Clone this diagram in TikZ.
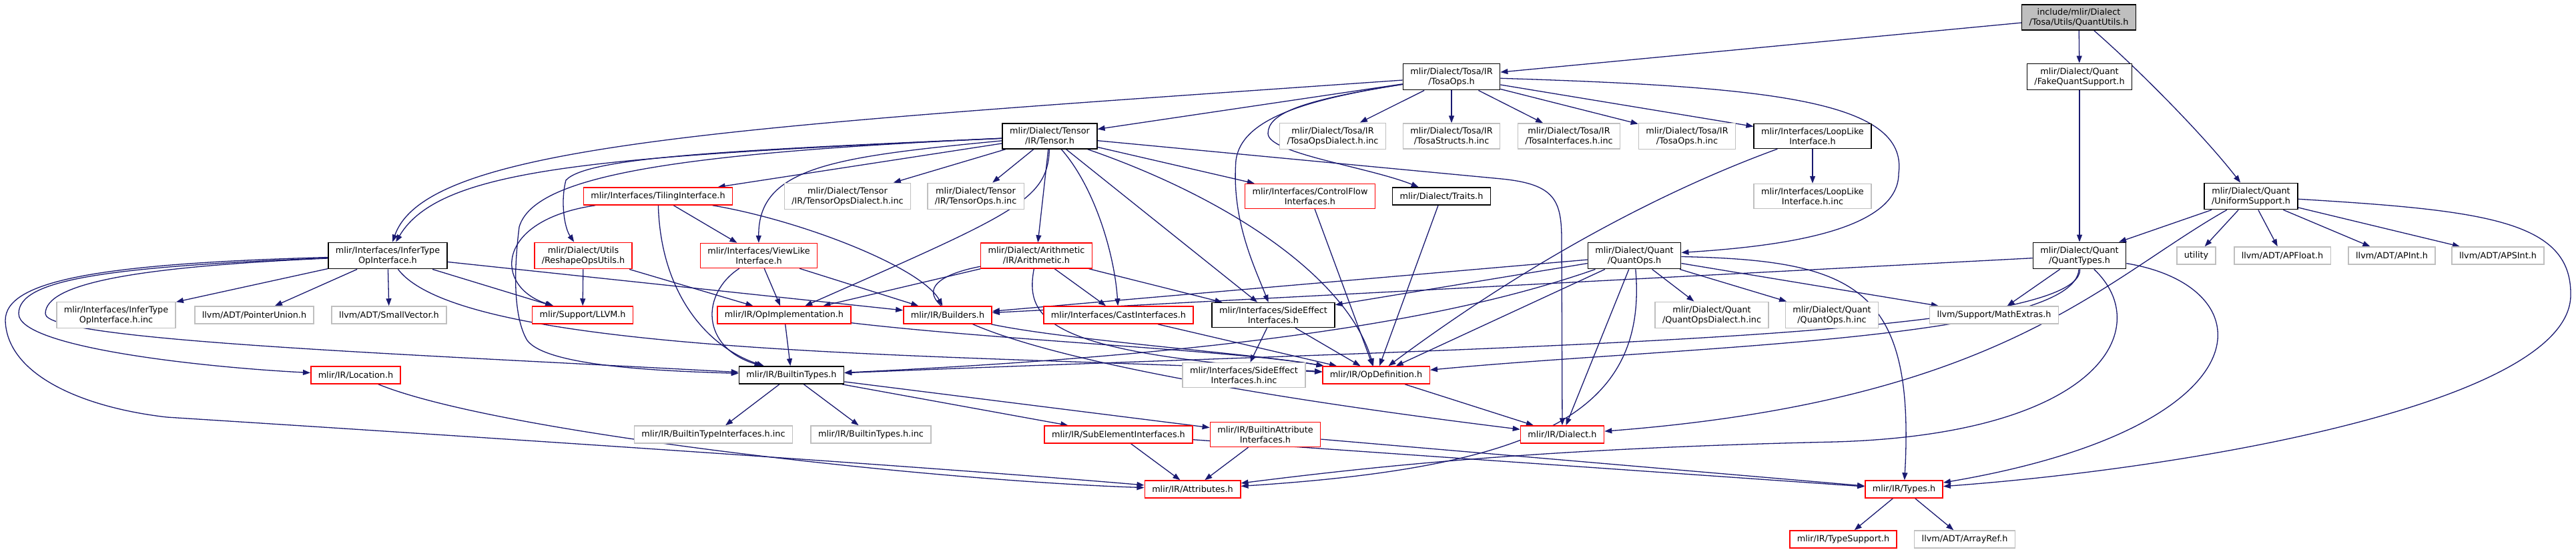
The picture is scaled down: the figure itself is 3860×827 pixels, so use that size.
\documentclass[tikz,border=0pt]{standalone}
\usepackage{fontspec}
\setmainfont{DejaVu Sans}
\usepackage{tikz}
\usetikzlibrary{arrows.meta,positioning,calc,backgrounds}
\definecolor{incblue}{HTML}{191970}
\definecolor{extgray}{HTML}{BFBFBF}
\tikzset{
  hfile/.style={rectangle,draw=black,fill=white,line width=1.5pt,
    inner xsep=11pt,inner ysep=6pt,minimum height=26pt,align=center,
    font=\fontsize{12.8}{15}\selectfont},
  hfilered/.style={hfile,draw=red},
  hfileext/.style={hfile,draw=extgray},
  hfileroot/.style={hfile,fill=extgray},
  incarrow/.style={-{Triangle[length=11pt,width=8pt]},draw=incblue,line width=1.3pt}
}

\begin{document}
\begin{tikzpicture}[x=1pt,y=-1pt]
\useasboundingbox (0,0) rectangle (3860,827);

  % --------------------------------------------------------------
  % Header files, one row per rank of the include graph.
  % --------------------------------------------------------------
  \node[hfileroot] (quantutils) at (3115,26) {include/mlir/Dialect\\/Tosa/Utils/QuantUtils.h};

  \node[hfile] (tosaops)   at (2175,115) {mlir/Dialect/Tosa/IR\\/TosaOps.h};
  \node[hfile] (fakequant) at (3116,115) {mlir/Dialect/Quant\\/FakeQuantSupport.h};

  \node[hfile]    (tensor)         at (1573,204) {mlir/Dialect/Tensor\\/IR/Tensor.h};
  \node[hfileext] (tosadialectinc) at (1997,204) {mlir/Dialect/Tosa/IR\\/TosaOpsDialect.h.inc};
  \node[hfileext] (tosastructsinc) at (2175,204) {mlir/Dialect/Tosa/IR\\/TosaStructs.h.inc};
  \node[hfileext] (tosaifaceinc)   at (2351,204) {mlir/Dialect/Tosa/IR\\/TosaInterfaces.h.inc};
  \node[hfileext] (tosaopsinc)     at (2528,204) {mlir/Dialect/Tosa/IR\\/TosaOps.h.inc};
  \node[hfile]    (looplike)       at (2716,204) {mlir/Interfaces/LoopLike\\Interface.h};

  \node[hfilered] (tiling)           at (986,294)  {mlir/Interfaces/TilingInterface.h};
  \node[hfileext] (tensordialectinc) at (1270,294) {mlir/Dialect/Tensor\\/IR/TensorOpsDialect.h.inc};
  \node[hfileext] (tensoropsinc)     at (1462,294) {mlir/Dialect/Tensor\\/IR/TensorOps.h.inc};
  \node[hfilered] (controlflow)      at (1963,294) {mlir/Interfaces/ControlFlow\\Interfaces.h};
  \node[hfile]    (traits)           at (2160,294) {mlir/Dialect/Traits.h};
  \node[hfileext] (looplikeinc)      at (2716,294) {mlir/Interfaces/LoopLike\\Interface.h.inc};
  \node[hfile]    (uniform)          at (3373,294) {mlir/Dialect/Quant\\/UniformSupport.h};

  \node[hfile]    (infertype)  at (581,383)  {mlir/Interfaces/InferType\\OpInterface.h};
  \node[hfilered] (reshape)    at (874,383)  {mlir/Dialect/Utils\\/ReshapeOpsUtils.h};
  \node[hfilered] (viewlike)   at (1137,383) {mlir/Interfaces/ViewLike\\Interface.h};
  \node[hfilered] (arith)      at (1553,383) {mlir/Dialect/Arithmetic\\/IR/Arithmetic.h};
  \node[hfile]    (quantops)   at (2449,383) {mlir/Dialect/Quant\\/QuantOps.h};
  \node[hfile]    (quanttypes) at (3116,383) {mlir/Dialect/Quant\\/QuantTypes.h};
  \node[hfileext] (utility)    at (3291,383) {utility};
  \node[hfileext] (apfloat)    at (3420,383) {llvm/ADT/APFloat.h};
  \node[hfileext] (apint)      at (3584,383) {llvm/ADT/APInt.h};
  \node[hfileext] (apsint)     at (3743,383) {llvm/ADT/APSInt.h};

  \node[hfileext] (infertypeinc)    at (174,472)  {mlir/Interfaces/InferType\\OpInterface.h.inc};
  \node[hfileext] (pointerunion)    at (381,472)  {llvm/ADT/PointerUnion.h};
  \node[hfileext] (smallvector)     at (583,472)  {llvm/ADT/SmallVector.h};
  \node[hfilered] (llvm)            at (873,472)  {mlir/Support/LLVM.h};
  \node[hfilered] (opimpl)          at (1175,472) {mlir/IR/OpImplementation.h};
  \node[hfilered] (builders)        at (1420,472) {mlir/IR/Builders.h};
  \node[hfilered] (castiface)       at (1676,472) {mlir/Interfaces/CastInterfaces.h};
  \node[hfile]    (sideeffect)      at (1908,472) {mlir/Interfaces/SideEffect\\Interfaces.h};
  \node[hfileext] (quantdialectinc) at (2565,472) {mlir/Dialect/Quant\\/QuantOpsDialect.h.inc};
  \node[hfileext] (quantopsinc)     at (2745,472) {mlir/Dialect/Quant\\/QuantOps.h.inc};
  \node[hfileext] (mathextras)      at (2988,472) {llvm/Support/MathExtras.h};

  \node[hfilered] (location)      at (533,562)  {mlir/IR/Location.h};
  \node[hfile]    (builtintypes)  at (1186,562) {mlir/IR/BuiltinTypes.h};
  \node[hfileext] (sideeffectinc) at (1864,562) {mlir/Interfaces/SideEffect\\Interfaces.h.inc};
  \node[hfilered] (opdef)         at (2062,562) {mlir/IR/OpDefinition.h};

  \node[hfileext] (btifaceinc)      at (1069,651) {mlir/IR/BuiltinTypeInterfaces.h.inc};
  \node[hfileext] (builtintypesinc) at (1305,651) {mlir/IR/BuiltinTypes.h.inc};
  \node[hfilered] (subelement)      at (1676,651) {mlir/IR/SubElementInterfaces.h};
  \node[hfilered] (builtinattr)     at (1896,651) {mlir/IR/BuiltinAttribute\\Interfaces.h};
  \node[hfilered] (dialect)         at (2341,651) {mlir/IR/Dialect.h};

  \node[hfilered] (attributes) at (1787,733) {mlir/IR/Attributes.h};
  \node[hfilered] (types)      at (2853,733) {mlir/IR/Types.h};

  \node[hfilered] (typesupport) at (2762,808) {mlir/IR/TypeSupport.h};
  \node[hfileext] (arrayref)    at (2944,808) {llvm/ADT/ArrayRef.h};

\begin{pgfonlayer}{background}
  % --------------------------------------------------------------
  % Includes, grouped by the including file.
  % --------------------------------------------------------------

  % QuantUtils.h
  \draw[incarrow] (quantutils) -- (tosaops);
  \draw[incarrow] (quantutils) -- (fakequant);
  \draw[incarrow] (quantutils) .. controls (3200,100) and (3300,200) .. (uniform);

  % TosaOps.h
  \draw[incarrow] (tosaops) -- (tensor);
  \draw[incarrow] (tosaops) .. controls (1100,190) and (640,215) .. (infertype);
  \draw[incarrow] (tosaops) -- (tosadialectinc);
  \draw[incarrow] (tosaops) -- (tosastructsinc);
  \draw[incarrow] (tosaops) -- (tosaifaceinc);
  \draw[incarrow] (tosaops) -- (tosaopsinc);
  \draw[incarrow] (tosaops) -- (looplike);
  \draw[incarrow] (tosaops) .. controls (2650,130) and (2860,150) .. (2845,260)
    .. controls (2845,350) and (2650,370) .. (quantops);
  \draw[incarrow] (tosaops) .. controls (1950,150) and (1900,170) .. (1900,200)
    .. controls (1900,230) and (2050,250) .. (traits);
  \draw[incarrow] (tosaops) .. controls (1950,150) and (1860,180) .. (1852,240)
    .. controls (1845,330) and (1880,400) .. (sideeffect);

  % Tensor.h
  \draw[incarrow] (tensor) .. controls (900,235) and (660,250) .. (infertype);
  \draw[incarrow] (tensor) -- (tiling);
  \draw[incarrow] (tensor) .. controls (1100,225) and (880,235) .. (848,270)
    .. controls (840,300) and (845,340) .. (reshape);
  \draw[incarrow] (tensor) .. controls (1000,230) and (800,265) .. (778,340)
    .. controls (768,420) and (772,480) .. (790,510)
    .. controls (820,550) and (1000,556) .. (builtintypes);
  \draw[incarrow] (tensor) -- (tensordialectinc);
  \draw[incarrow] (tensor) -- (tensoropsinc);
  \draw[incarrow] (tensor) .. controls (1250,235) and (1136,250) .. (viewlike);
  \draw[incarrow] (tensor) .. controls (1570,300) and (1520,320) .. (opimpl);
  \draw[incarrow] (tensor) -- (arith);
  \draw[incarrow] (tensor) .. controls (1640,280) and (1670,380) .. (castiface);
  \draw[incarrow] (tensor) -- (sideeffect);
  \draw[incarrow] (tensor) .. controls (1850,300) and (2020,420) .. (opdef);
  \draw[incarrow] (tensor) -- (controlflow);
  \draw[incarrow] (tensor) -- (2250,268) .. controls (2330,276) and (2340,300)
    .. (2340,360) -- (dialect);

  % FakeQuantSupport.h and UniformSupport.h
  \draw[incarrow] (fakequant) -- (quanttypes);
  \draw[incarrow] (uniform) -- (quanttypes);
  \draw[incarrow] (uniform) .. controls (3150,420) and (3000,600) .. (dialect);
  \draw[incarrow] (uniform) -- (utility);
  \draw[incarrow] (uniform) -- (apfloat);
  \draw[incarrow] (uniform) -- (apint);
  \draw[incarrow] (uniform) -- (apsint);
  \draw[incarrow] (uniform) .. controls (3720,315) and (3852,330) .. (3852,440)
    .. controls (3856,600) and (3300,700) .. (types);

  % LoopLikeInterface.h, ControlFlowInterfaces.h, Traits.h
  \draw[incarrow] (looplike) -- (looplikeinc);
  \draw[incarrow] (looplike) .. controls (2480,290) and (2280,400) .. (opdef);
  \draw[incarrow] (controlflow) -- (opdef);
  \draw[incarrow] (traits) -- (opdef);

  % QuantOps.h
  \draw[incarrow] (quantops) -- (builders);
  \draw[incarrow] (quantops) -- (sideeffect);
  \draw[incarrow] (quantops) .. controls (2200,470) and (1900,528) .. (builtintypes);
  \draw[incarrow] (quantops) -- (opdef);
  \draw[incarrow] (quantops) -- (dialect);
  \draw[incarrow] (quantops) .. controls (2470,620) and (2300,700) .. (attributes);
  \draw[incarrow] (quantops) -- (quantdialectinc);
  \draw[incarrow] (quantops) -- (quantopsinc);
  \draw[incarrow] (quantops) -- (mathextras);
  \draw[incarrow] (quantops) .. controls (2780,390) and (2870,430) .. (types);

  % QuantTypes.h
  \draw[incarrow] (quanttypes) -- (mathextras);
  \draw[incarrow] (quanttypes) -- (builders);
  \draw[incarrow] (quanttypes) .. controls (3120,510) and (2200,520) .. (builtintypes);
  \draw[incarrow] (quanttypes) .. controls (3110,510) and (2500,520) .. (opdef);
  \draw[incarrow] (quanttypes) .. controls (3230,490) and (3150,650) .. (2750,662)
    .. controls (2300,672) and (2050,700) .. (attributes);
  \draw[incarrow] (quanttypes) .. controls (3400,430) and (3400,640) .. (types);

  % Arithmetic.h
  \draw[incarrow] (arith) -- (opimpl);
  \draw[incarrow] (arith) .. controls (1310,430) and (1360,530) .. (dialect);
  \draw[incarrow] (arith) -- (castiface);
  \draw[incarrow] (arith) -- (sideeffect);
  \draw[incarrow] (arith) .. controls (1535,480) and (1570,530) .. (opdef);

  % TilingInterface.h, ReshapeOpsUtils.h, ViewLikeInterface.h
  \draw[incarrow] (tiling) .. controls (740,330) and (740,430) .. (llvm);
  \draw[incarrow] (tiling) -- (viewlike);
  \draw[incarrow] (tiling) .. controls (990,440) and (1060,520) .. (builtintypes);
  \draw[incarrow] (tiling) .. controls (1200,330) and (1380,400) .. (builders);
  \draw[incarrow] (reshape) -- (llvm);
  \draw[incarrow] (reshape) -- (opimpl);
  \draw[incarrow] (viewlike) -- (opimpl);
  \draw[incarrow] (viewlike) -- (builders);
  \draw[incarrow] (viewlike) .. controls (1050,440) and (1050,520) .. (builtintypes);

  % InferTypeOpInterface.h
  \draw[incarrow] (infertype) -- (infertypeinc);
  \draw[incarrow] (infertype) -- (pointerunion);
  \draw[incarrow] (infertype) -- (smallvector);
  \draw[incarrow] (infertype) -- (llvm);
  \draw[incarrow] (infertype) -- (builders);
  \draw[incarrow] (infertype) .. controls (700,540) and (1500,530) .. (opdef);
  \draw[incarrow] (infertype) .. controls (150,400) and (28,420) .. (28,470)
    .. controls (28,520) and (300,550) .. (location);
  \draw[incarrow] (infertype) .. controls (200,400) and (68,425) .. (68,470)
    .. controls (68,510) and (600,530) .. (builtintypes);
  \draw[incarrow] (infertype) .. controls (150,395) and (8,420) .. (8,480)
    .. controls (10,560) and (120,610) .. (250,625)
    .. controls (800,660) and (1400,700) .. (attributes);

  % the mlir/IR headers
  \draw[incarrow] (opimpl) -- (builtintypes);
  \draw[incarrow] (opimpl) .. controls (1500,510) and (1850,525) .. (opdef);
  \draw[incarrow] (builders) .. controls (1600,510) and (1880,530) .. (opdef);
  \draw[incarrow] (castiface) -- (opdef);
  \draw[incarrow] (sideeffect) -- (sideeffectinc);
  \draw[incarrow] (sideeffect) -- (opdef);
  \draw[incarrow] (location) .. controls (750,650) and (1400,720) .. (attributes);
  \draw[incarrow] (builtintypes) -- (btifaceinc);
  \draw[incarrow] (builtintypes) -- (builtintypesinc);
  \draw[incarrow] (builtintypes) -- (subelement);
  \draw[incarrow] (builtintypes) -- (builtinattr);
  \draw[incarrow] (subelement) -- (attributes);
  \draw[incarrow] (subelement) -- (types);
  \draw[incarrow] (builtinattr) -- (attributes);
  \draw[incarrow] (builtinattr) -- (types);
  \draw[incarrow] (opdef) -- (dialect);
  \draw[incarrow] (types) -- (typesupport);
  \draw[incarrow] (types) -- (arrayref);
\end{pgfonlayer}

\end{tikzpicture}
\end{document}
